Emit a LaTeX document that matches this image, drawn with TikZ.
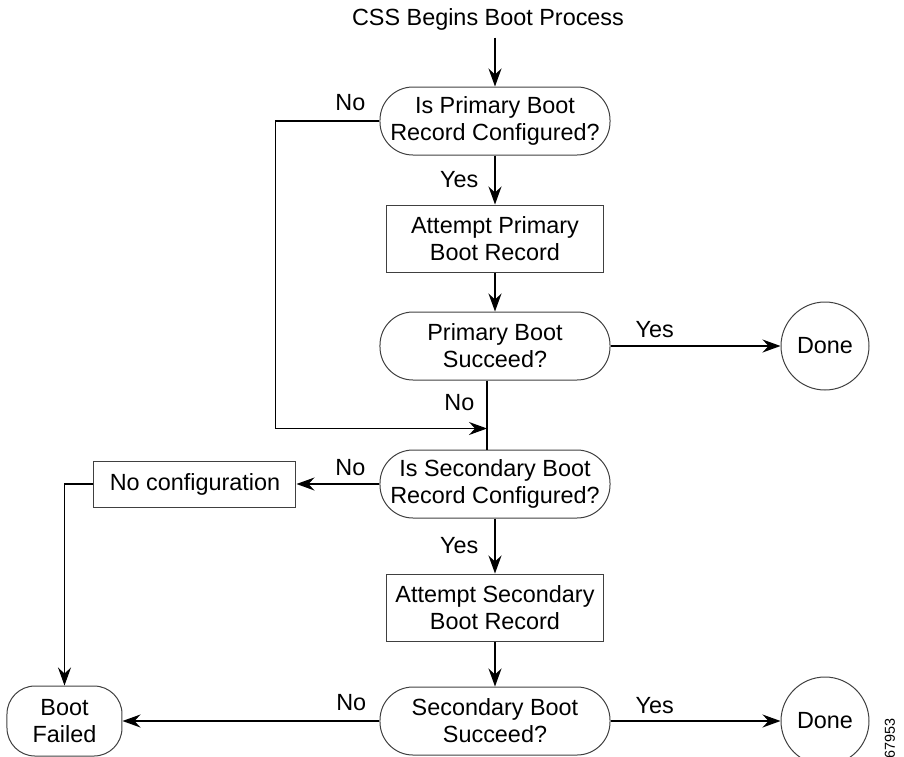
\documentclass[tikz,border=0pt]{standalone}
\usepackage{fontspec}
\setmainfont{Liberation Sans}
\usetikzlibrary{positioning,arrows.meta}

\begin{document}
\begin{tikzpicture}[align=center,font=\fontsize{11.7}{13.5}\selectfont,
	conn/.style={line width=0.6pt,-{Stealth[length=9pt,width=6.5pt,inset=3pt]}},
	link/.style={line width=0.6pt},
	ask/.style={rectangle,rounded corners=16.5pt,draw=black!75,line width=0.5pt,minimum width=115pt,minimum height=34pt,inner sep=2pt},
	box/.style={rectangle,draw=black!75,line width=0.5pt,minimum width=108pt,minimum height=33.5pt},
	endpt/.style={circle,draw=black!75,line width=0.5pt,minimum size=44pt,inner sep=0pt},
	lbl/.style={inner sep=2pt}]
\useasboundingbox (-247.5pt,60.5pt) rectangle (204.5pt,-317.5pt);
\node[ask](prim) at (0,0){Is Primary Boot \\ Record Configured?};
\node(start)[above=24.5pt of prim,xshift=-3.5pt]{CSS Begins Boot Process};
\node[box](tryprim)[below=24.5pt of prim]{Attempt Primary \\ Boot Record};
\node[ask](okprim)[below=19.5pt of tryprim]{Primary Boot \\ Succeed?};
\node[ask](sec)[below=34.5pt of okprim]{Is Secondary Boot \\ Record Configured?};
\node[box](trysec)[below=27.5pt of sec]{Attempt Secondary \\ Boot Record};
\node[ask](oksec)[below=22.5pt of trysec]{Secondary Boot \\ Succeed?};
\node[endpt](done1)[right=85pt of okprim]{Done};
\node[endpt](done2)[right=85pt of oksec]{Done};
\node[box,minimum width=101pt,minimum height=23pt](noconf)[left=41.5pt of sec]{No configuration};
\node[rectangle,rounded corners=14pt,draw=black!75,line width=0.5pt,minimum width=57.5pt,minimum height=35pt](fail)[left=128.5pt of oksec]{Boot \\ Failed};
\node[rotate=90,font=\fontsize{7.2}{8}\selectfont](figid) at ([xshift=32.5pt,yshift=-8.5pt]done2.center){67953};
\coordinate(drop) at ([xshift=-4pt]okprim.south);
\coordinate(merge) at ([yshift=10.5pt]drop |- sec.north);
% main path
\draw[conn](start.south -| prim.north) to (prim);
\draw[conn](prim) to node[lbl,left=6pt]{Yes} (tryprim);
\draw[conn](tryprim) to (okprim);
\draw[link](drop) to node[lbl,pos=0.32,left=4pt]{No} (drop |- sec.north);
\draw[conn](sec) to node[lbl,left=6pt]{Yes} (trysec);
\draw[conn](trysec) to (oksec);
% branches
\draw[conn](okprim) to node[lbl,pos=0.26,above=2pt]{Yes} (done1);
\draw[conn](oksec) to node[lbl,pos=0.26,above=1.5pt]{Yes} (done2);
\draw[conn](prim.west) -- node[lbl,pos=0.28,above=3pt]{No} ++(-52pt,0) |- (merge);
\draw[conn](sec) to node[lbl,pos=0.35,above=2pt]{No} (noconf);
\draw[conn](noconf.west) -| (fail.north);
\draw[conn](oksec) to node[lbl,pos=0.11,above=3pt]{No} (fail);
\end{tikzpicture}
\end{document}
